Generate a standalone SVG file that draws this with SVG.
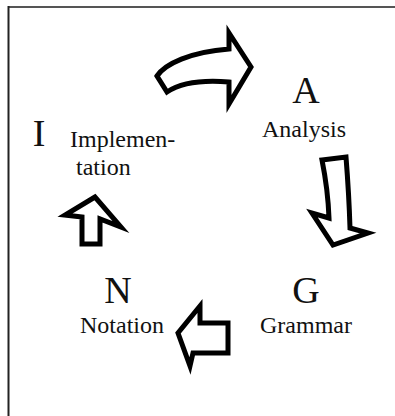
<svg xmlns="http://www.w3.org/2000/svg" width="395" height="416" viewBox="0 0 395 416">
<style>
.big{font-family:"Liberation Serif","Times New Roman",serif;font-size:38px;fill:#111;text-anchor:middle}
.lbl{font-family:"Liberation Serif","Times New Roman",serif;font-size:24px;fill:#111}
.arr{fill:#fff;stroke:#000;stroke-width:5;stroke-linejoin:miter;stroke-miterlimit:10}
</style>
<rect width="395" height="416" fill="#fff"/>
<line x1="8" y1="7" x2="395" y2="7" stroke="#555" stroke-width="2"/>
<line x1="8.5" y1="6" x2="8.5" y2="416" stroke="#222" stroke-width="2"/>
<g id="connectors">
<path class="arr" d="M157,76 C165,64 190,52 229,49 L229,33 L251,67 L229,104 L229,82 C205,80 182,82 167,92 Z"/>
<path class="arr" d="M322,160 L346,157 Q349,195 350,228 L368,233 L333,245 L312,213 L329,218 Q328,190 322,160 Z"/>
<path class="arr" d="M228,323 L228,353 L193,353 L190,366 L178,333 L200,306 L200,323 Z"/>
<path class="arr" d="M95,197 L65,215 L82,217 L82,244 L100,244 L100,219 L121,227 Z"/>
</g>
<g id="node-A">
<text class="big" x="306" y="103">A</text>
<text class="lbl" x="262" y="137">Analysis</text>
</g>
<g id="node-G">
<text class="big" x="306" y="303">G</text>
<text class="lbl" x="260" y="333">Grammar</text>
</g>
<g id="node-N">
<text class="big" x="118" y="303">N</text>
<text class="lbl" x="80" y="333">Notation</text>
</g>
<g id="node-I">
<text class="big" x="39" y="146">I</text>
<text class="lbl" x="70" y="147">Implemen-</text>
<text class="lbl" x="76" y="175">tation</text>
</g>
</svg>
